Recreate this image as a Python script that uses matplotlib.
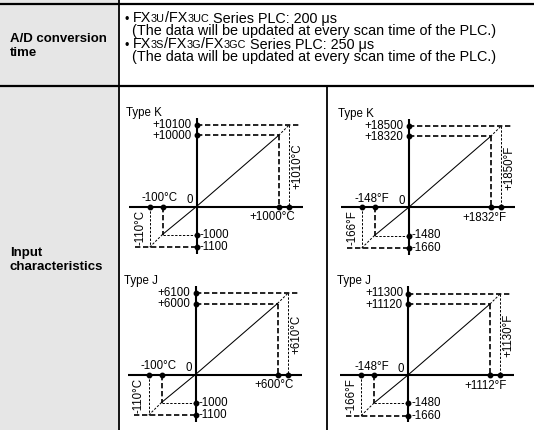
import numpy as np
import matplotlib
matplotlib.use('Agg')
import matplotlib.pyplot as plt
from matplotlib.patches import Rectangle

plt.rcParams['font.family'] = ['Liberation Sans', 'DejaVu Sans']

W, H = 534, 430

# ---------------- data ----------------
row1_label = ['A/D conversion', 'time']
row2_label = ['Input', 'characteristics']
bullet1 = [('FX', 'n'), ('3U', 's'), ('/FX', 'n'), ('3UC', 's'), (' ', 'n'), ('Series PLC: 200 \u03bcs', 'n')]
bullet2 = [('FX', 'n'), ('3S', 's'), ('/FX', 'n'), ('3G', 's'), ('/FX', 'n'), ('3GC', 's'), (' ', 'n'),
           ('Series PLC: 250 \u03bcs', 'n')]
note_text = '(The data will be updated at every scan time of the PLC.)'

chart_titles = ['Type K', 'Type K', 'Type J', 'Type J']
chart_units = ['\u00b0C', '\u00b0F', '\u00b0C', '\u00b0F']
# temperature breakpoints: [-limit, -min, 0, max, limit]
kc_temp = [-110, -100, 0, 1000, 1010]
kc_digital = [-1100, -1000, 0, 10000, 10100]
kf_temp = [-166, -148, 0, 1832, 1850]
kf_digital = [-1660, -1480, 0, 18320, 18500]
jc_temp = [-110, -100, 0, 600, 610]
jc_digital = [-1100, -1000, 0, 6000, 6100]
jf_temp = [-166, -148, 0, 1112, 1130]
jf_digital = [-1660, -1480, 0, 11120, 11300]

# ---------------- layout (pixels) ----------------
X_POS = [-47.0, -34.0, 0.0, 82.0, 92.4]
Y_POS = [-40.8, -28.0, 0.0, 71.0, 81.2]
XMIN, XMAX = -68.0, 106.0
YMIN, YMAX = -47.0, 89.0
ORIGINS = [(196.5, 206.5), (408.5, 207.5), (195.5, 374.5), (408.0, 375.0)]

GRAY = '#e6e6e6'
FS_BODY = 10.4
FS_SMALL = 7.8
FS_BOLD = 9.5
FS_CH = 8.3

fig = plt.figure(figsize=(W / 100, H / 100), dpi=100)
bg = fig.add_axes([0, 0, 1, 1])
bg.set_xlim(0, W)
bg.set_ylim(H, 0)
bg.axis('off')

# table
bg.add_patch(Rectangle((0, 0), 118, H, color=GRAY, lw=0, zorder=0))
bg.plot([0, W], [4, 4], color='black', lw=1.6, solid_capstyle='butt')
bg.plot([0, W], [85.5, 85.5], color='black', lw=1.6, solid_capstyle='butt')
bg.plot([118.5, 118.5], [0, H], color='black', lw=1.3, solid_capstyle='butt')
bg.plot([327, 327], [85.5, H], color='black', lw=1.3, solid_capstyle='butt')

for i, s in enumerate(row1_label):
    bg.text(10, 42.5 + 13.5 * i, s, fontsize=FS_BOLD, fontweight='bold', va='baseline', ha='left')
for i, s in enumerate(row2_label):
    bg.text(10, 256 + 14.5 * i, s, fontsize=FS_BOLD, fontweight='bold', va='baseline', ha='left')

renderer = fig.canvas.get_renderer()


def text_w(s, fs):
    t = bg.text(0, 0, s, fontsize=fs)
    w = t.get_window_extent(renderer).width
    t.remove()
    return w


def rich(x, y, pieces):
    for s, kind in pieces:
        fs = FS_BODY if kind == 'n' else FS_SMALL
        if s == ' ':
            x += text_w('x x', fs) - text_w('xx', fs)
            continue
        t = bg.text(x, y, s, fontsize=fs, va='baseline', ha='left')
        x += t.get_window_extent(renderer).width


bg.text(124.5, 22.5, '\u2022', fontsize=FS_BODY * 0.85, va='baseline', ha='left')
rich(132.5, 22.5, bullet1)
bg.text(132.5, 35.5, note_text, fontsize=FS_BODY, va='baseline', ha='left')
bg.text(124.5, 48.5, '\u2022', fontsize=FS_BODY * 0.85, va='baseline', ha='left')
rich(132.5, 48.5, bullet2)
bg.text(132.5, 61.5, note_text, fontsize=FS_BODY, va='baseline', ha='left')


def make_pw(vb, pb):
    vb = np.asarray(vb, float)
    pb = np.asarray(pb, float)
    s0 = (pb[1] - pb[0]) / (vb[1] - vb[0])
    s1 = (pb[-1] - pb[-2]) / (vb[-1] - vb[-2])

    def fwd(v):
        v = np.asarray(v, float)
        out = np.interp(v, vb, pb)
        out = np.where(v < vb[0], pb[0] + (v - vb[0]) * s0, out)
        out = np.where(v > vb[-1], pb[-1] + (v - vb[-1]) * s1, out)
        return out

    def inv(p):
        p = np.asarray(p, float)
        out = np.interp(p, pb, vb)
        out = np.where(p < pb[0], vb[0] + (p - pb[0]) / s0, out)
        out = np.where(p > pb[-1], vb[-1] + (p - pb[-1]) / s1, out)
        return out

    return fwd, inv


THICK = dict(color='black', lw=1.2, dashes=(3.2, 1.6), dash_capstyle='butt')
THIN = dict(color='black', lw=0.7, dashes=(2.4, 1.6), dash_capstyle='butt')


def draw_chart(origin, title, unit, t, d):
    ox, oy = origin
    rect = [(ox + XMIN) / W, (H - (oy - YMIN)) / H, (XMAX - XMIN) / W, (YMAX - YMIN) / H]
    ax = fig.add_axes(rect)
    fx, ix = make_pw(t, X_POS)
    fy, iy = make_pw(d, Y_POS)
    ax.set_xscale('function', functions=(fx, ix))
    ax.set_yscale('function', functions=(fy, iy))
    ax.set_xlim(float(ix(XMIN)), float(ix(XMAX)))
    ax.set_ylim(float(iy(YMIN)), float(iy(YMAX)))
    ax.axis('off')
    t_right = float(ix(104))
    t_left = float(ix(-62))

    # characteristic line
    ax.plot([t[1], 0, t[3]], [d[1], 0, d[3]], color='black', lw=0.75, zorder=3)
    ax.plot([t[3], t[4]], [d[3], d[4]], **THIN, zorder=3)
    ax.plot([t[1], t[0]], [d[1], d[0]], **THIN, zorder=3)
    # upper guides
    ax.plot([0, t_right], [d[4], d[4]], **THICK, zorder=2)
    ax.plot([0, t[3]], [d[3], d[3]], **THICK, zorder=2)
    ax.plot([t[3], t[3]], [d[3], 0], **THICK, zorder=2)
    ax.plot([t[4], t[4]], [d[4], 0], **THIN, zorder=2)
    # lower guides
    ax.plot([t[1], t[1]], [0, d[1]], **THICK, zorder=2)
    ax.plot([t[1], 0], [d[1], d[1]], **THIN, zorder=2)
    ax.plot([t[0], t[0]], [0, d[0]], **THIN, zorder=2)
    ax.plot([t_left, 0], [d[0], d[0]], **THICK, zorder=2)

    # axes
    ax.axhline(0, color='black', lw=1.5, zorder=4)
    ax.axvline(0, color='black', lw=1.5, zorder=4)
    # dots
    ax.plot([0, 0, 0, 0], [d[0], d[1], d[3], d[4]], 'o', color='black', ms=3.2, zorder=5, clip_on=False)
    ax.plot([t[0], t[1], t[3], t[4]], [0, 0, 0, 0], 'o', color='black', ms=3.2, zorder=5, clip_on=False)

    kw = dict(textcoords='offset pixels', fontsize=FS_CH, annotation_clip=False)
    ax.annotate(title, xy=(0, d[4]), xytext=(-71, 12.5), ha='left', va='center', **kw)
    ax.annotate('+%d' % d[4], xy=(0, d[4]), xytext=(-5, 0.5), ha='right', va='center', **kw)
    ax.annotate('+%d' % d[3], xy=(0, d[3]), xytext=(-5, -0.5), ha='right', va='center', **kw)
    ax.annotate('%d' % d[1], xy=(0, d[1]), xytext=(3, 0), ha='left', va='center', **kw)
    ax.annotate('%d' % d[0], xy=(0, d[0]), xytext=(3, 0), ha='left', va='center', **kw)
    ax.annotate('%d%s' % (t[1], unit), xy=(t[1], 0), xytext=(15, 8.5), ha='right', va='center', **kw)
    ax.annotate('0', xy=(0, 0), xytext=(-7, 6.5), ha='center', va='center', **kw)
    ax.annotate('+%d%s' % (t[3], unit), xy=(t[4], 0), xytext=(6, -11), ha='right', va='center', **kw)
    ax.annotate('+%d%s' % (t[4], unit), xy=(t[4], 0), xytext=(8, 40), ha='center', va='center',
                rotation=90, **kw)
    ax.annotate('%d%s' % (t[0], unit), xy=(t[0], 0), xytext=(-9.5, -20.5), ha='center', va='center',
                rotation=90, **kw)


draw_chart(ORIGINS[0], chart_titles[0], chart_units[0], kc_temp, kc_digital)
draw_chart(ORIGINS[1], chart_titles[1], chart_units[1], kf_temp, kf_digital)
draw_chart(ORIGINS[2], chart_titles[2], chart_units[2], jc_temp, jc_digital)
draw_chart(ORIGINS[3], chart_titles[3], chart_units[3], jf_temp, jf_digital)

fig.savefig('out.png', dpi=100)
